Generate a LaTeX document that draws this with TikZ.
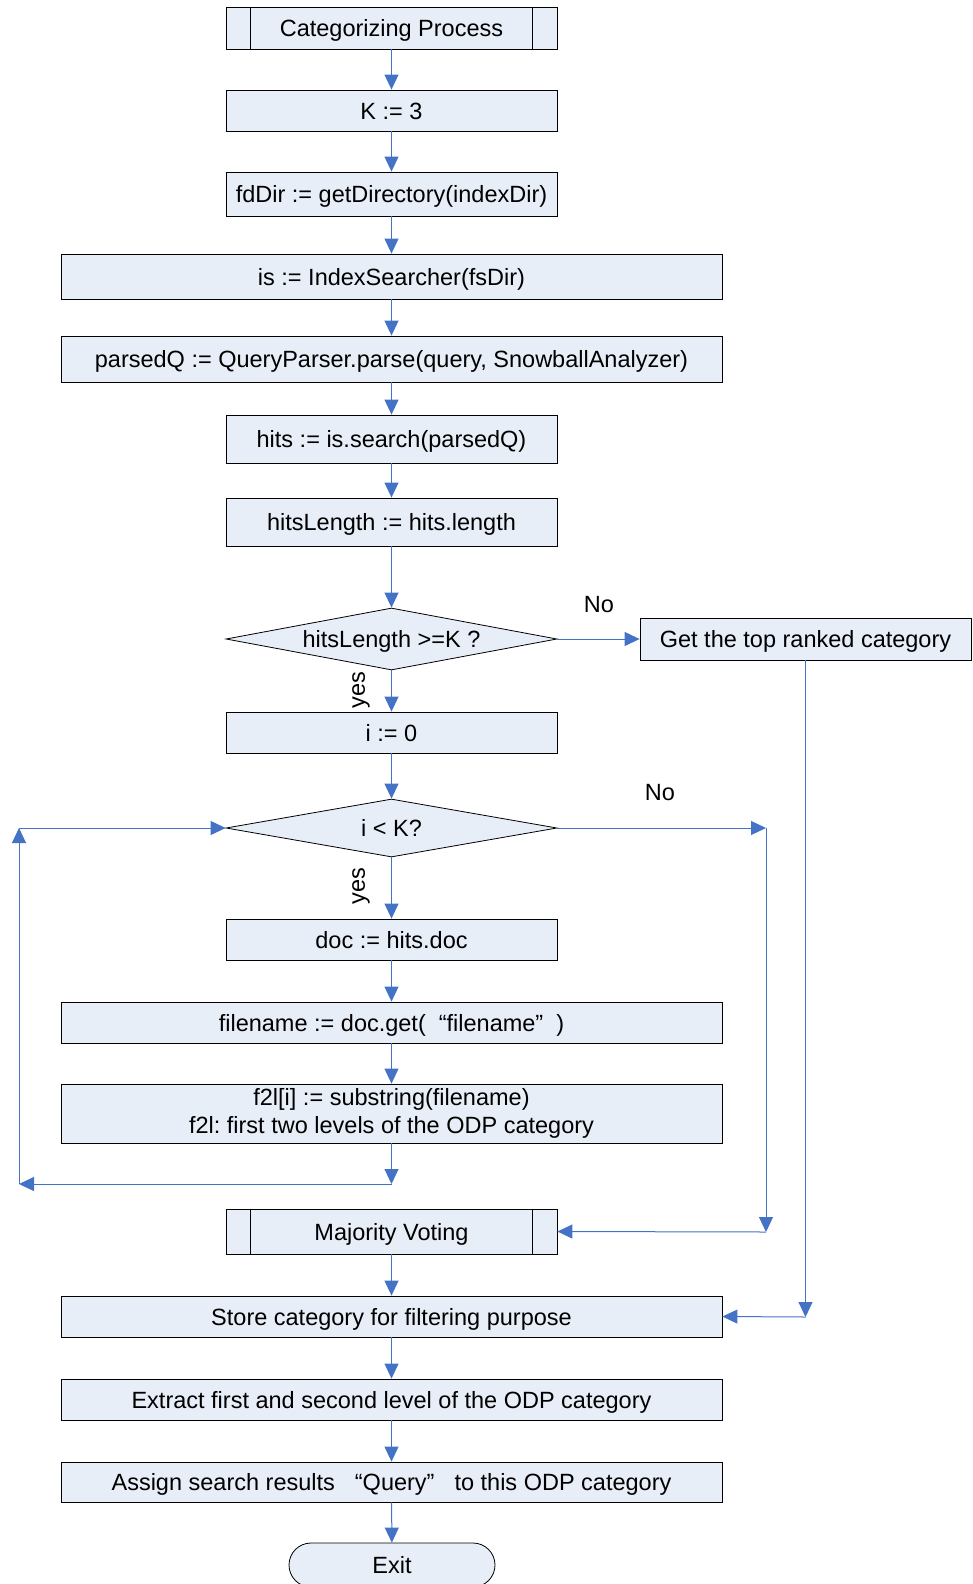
\documentclass[tikz,border=0pt]{standalone}
\usepackage{fontspec}
\setmainfont{Liberation Sans}
\frenchspacing
\usetikzlibrary{shapes.geometric,arrows.meta,calc}
\definecolor{boxfill}{RGB}{232,238,248}
\definecolor{flow}{RGB}{68,114,196}
\begin{document}
\begin{tikzpicture}[x=1pt,y=-1pt,
  every node/.style={font=\fontsize{23.5}{28}\selectfont},
  box/.style={draw=black, line width=0.8pt, fill=boxfill, inner sep=0pt, align=center},
  line/.style={text height=21.5pt, text depth=4pt},
  narrowbox/.style={box, line, minimum width=331pt},
  widebox/.style={box, line, minimum width=661pt},
  decision/.style={box, line, diamond, aspect=5.3, minimum width=331pt},
  terminal/.style={box, rounded corners=22pt, minimum width=206pt, minimum height=44pt},
  conn/.style={draw=flow, line width=1pt, -{Triangle[length=15pt,width=14pt]}},
  lbl/.style={inner sep=0pt}
]
\useasboundingbox (0,0) rectangle (972,1584);

% main column
\node[narrowbox, minimum height=42pt] (start) at (391.5,28) {Categorizing Process};
\node[narrowbox, minimum height=41pt] (k) at (391.5,110.5) {K := 3};
\node[narrowbox, minimum height=44pt] (fd) at (391.5,194) {fdDir := getDirectory(indexDir)};
\node[widebox, minimum height=45pt] (is) at (391.5,276.5) {is := IndexSearcher(fsDir)};
\node[widebox, minimum height=46pt] (pq) at (391.5,359) {parsedQ := QueryParser.parse(query, SnowballAnalyzer)};
\node[narrowbox, minimum height=48pt] (hits) at (391.5,439) {hits := is.search(parsedQ)};
\node[narrowbox, minimum height=48pt] (hl) at (391.5,522) {hitsLength := hits.length};
\node[decision, minimum height=62pt] (d1) at (391.5,639) {hitsLength >=K ?};
\node[box, line, minimum width=331pt, minimum height=42pt] (top) at (805.5,639) {Get the top ranked category};
\node[narrowbox, minimum height=41pt] (i0) at (391.5,732.5) {i := 0};
\node[decision, minimum height=58pt] (d2) at (391.5,828) {i < K?};
\node[narrowbox, minimum height=41pt] (doc) at (391.5,939.5) {doc := hits.doc};
\node[widebox, minimum height=41pt] (fn) at (391.5,1022.5) {filename := doc.get(\hspace{13pt}“filename”\hspace{13pt})};
\node[box, minimum width=661pt, minimum height=59pt] (f2l) at (391.5,1113.5) {f2l[i] := substring(filename)\\f2l: first two levels of the ODP category};
\node[narrowbox, minimum height=45pt] (mv) at (391.5,1231.5) {Majority Voting};
\node[widebox, minimum height=41pt] (store) at (391.5,1316.5) {Store category for filtering purpose};
\node[widebox, minimum height=41pt] (ext) at (391.5,1399.5) {Extract first and second level of the ODP category};
\node[widebox, minimum height=40pt] (asg) at (391.5,1482) {Assign search results\hspace{20pt}“Query”\hspace{20pt}to this ODP category};
\node[terminal] (exit) at (392,1565) {Exit};

% side bars of the predefined-process boxes
\foreach \n in {start,mv}{
  \draw[line width=0.8pt] ($(\n.north west)+(25,0)$) -- ($(\n.south west)+(25,0)$);
  \draw[line width=0.8pt] ($(\n.north east)+(-25,0)$) -- ($(\n.south east)+(-25,0)$);
}

% bend points of the loop and side branches
\coordinate (c1) at (391.5,1184);
\coordinate (c2) at (19,1184);
\coordinate (c3) at (19,828);
\coordinate (r1) at (766,828);
\coordinate (r2) at (766,1232);
\coordinate (t1) at (805.5,1317);

% straight flow
\draw[conn] (start) -- (k);
\draw[conn] (k) -- (fd);
\draw[conn] (fd) -- (is);
\draw[conn] (is) -- (pq);
\draw[conn] (pq) -- (hits);
\draw[conn] (hits) -- (hl);
\draw[conn] (hl) -- (d1);
\draw[conn] (d1.south) -- (i0);
\draw[conn] (d1.east) -- (top.west);
\draw[conn] (i0) -- (d2);
\draw[conn] (d2.south) -- (doc);
\draw[conn] (doc) -- (fn);
\draw[conn] (fn) -- (f2l);
\draw[conn] (mv) -- (store);
\draw[conn] (store) -- (ext);
\draw[conn] (ext) -- (asg);
\draw[conn] (asg) -- (exit);

% loop back to the test
\draw[conn] (f2l.south) -- (c1);
\draw[conn] (c1) -- (c2);
\draw[conn] (c2) -- (c3);
\draw[conn] (c3) -- (d2.west);

% loop exit to voting
\draw[conn] (d2.east) -- (r1);
\draw[conn] (r1) -- (r2);
\draw[conn] (r2) -- (mv.east);

% too few hits
\draw[conn] (top.south) -- (t1);
\draw[conn] (t1) -- (store.east);

% branch labels
\node[lbl] (no1) at (599,605) {No};
\node[lbl] (no2) at (660,793) {No};
\node[lbl, rotate=90] (yes1) at (361,690) {yes};
\node[lbl, rotate=90] (yes2) at (361,886) {yes};
\end{tikzpicture}
\end{document}
